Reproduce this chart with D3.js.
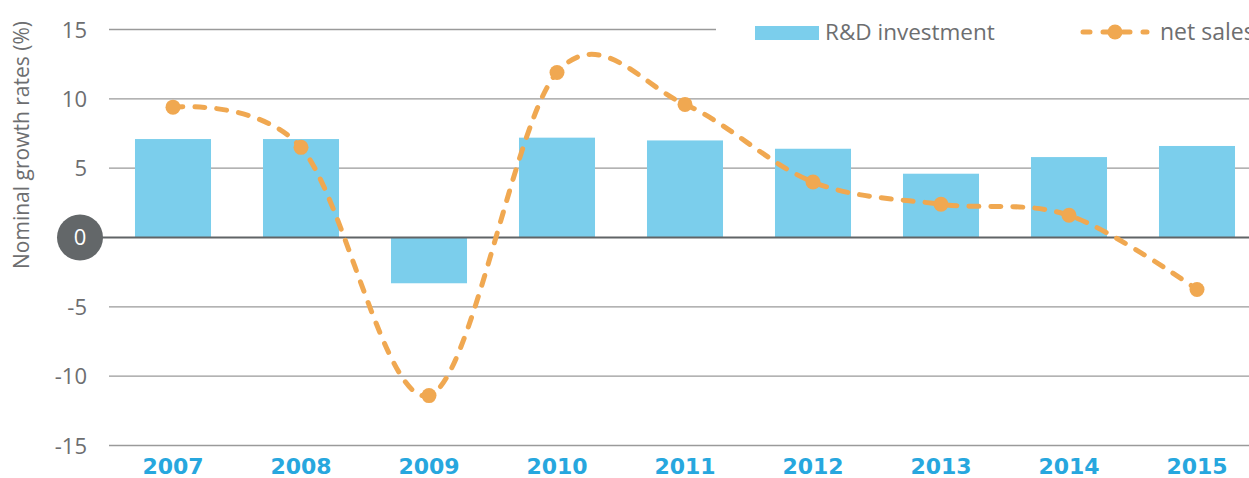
<!DOCTYPE html>
<html><head><meta charset="utf-8">
<script src="https://cdn.jsdelivr.net/npm/d3@7"></script>
<style>
html,body{margin:0;padding:0;background:#fff;overflow:hidden}
svg{display:block;font-family:"Open Sans",sans-serif}
</style></head>
<body>
<svg id="c" width="1249" height="478"></svg>
<script>
const years = ["2007","2008","2009","2010","2011","2012","2013","2014","2015"];
const rdInvestment = [7.1, 7.1, -3.3, 7.2, 7.0, 6.4, 4.6, 5.8, 6.6];
const netSales = [9.4, 6.5, -11.4, 11.9, 9.6, 4.0, 2.4, 1.6, -3.75];
const yTicks = [-15, -10, -5, 0, 5, 10, 15];
const seriesNames = ["R&D investment", "net sales"];
const axisTitle = "Nominal growth rates (%)";

const svg = d3.select("#c");
const left = 109, right = 1261;
const x = d3.scaleBand().domain(years).range([left, right]).paddingInner(0.406).paddingOuter(0.203);
const y = d3.scaleLinear().domain([-15, 15]).range([445.5, 29.5]);

const barColor = "#7bceec", lineColor = "#f0a851", gridColor = "#9a9a9a", textGrey = "#6d6e70";

// gridlines
const grid = svg.append("g");
grid.selectAll("line").data(yTicks.filter(d => d !== 0)).join("line")
  .attr("x1", left).attr("x2", d => d === 15 ? 716 : 1249)
  .attr("y1", d => y(d)).attr("y2", d => y(d))
  .attr("stroke", gridColor).attr("stroke-width", 1.3);

// bars
svg.append("g").selectAll("rect").data(years).join("rect")
  .attr("x", d => x(d))
  .attr("width", x.bandwidth())
  .attr("y", (d, i) => y(Math.max(0, rdInvestment[i])))
  .attr("height", (d, i) => Math.abs(y(rdInvestment[i]) - y(0)))
  .attr("fill", barColor);

// zero line
svg.append("line").attr("x1", 100).attr("x2", 1249)
  .attr("y1", y(0)).attr("y2", y(0))
  .attr("stroke", "#606466").attr("stroke-width", 2.2);

// y-axis labels
const yAxis = d3.axisLeft(y).tickValues(yTicks).tickSize(0).tickPadding(0)
  .tickFormat(d => d === 0 ? "" : d3.format("d")(d).replace("−", "-"));
const ya = svg.append("g").attr("transform", "translate(87,0)").call(yAxis);
ya.select(".domain").remove();
ya.selectAll("text").attr("fill", textGrey).attr("font-size", 22)
  .attr("font-family", "'Open Sans',sans-serif").attr("dy", "0.35em");

// zero circle
svg.append("circle").attr("cx", 80).attr("cy", y(0)).attr("r", 23).attr("fill", "#636769");
svg.append("text").attr("x", 80).attr("y", y(0)).attr("dy", "0.36em")
  .attr("text-anchor", "middle").attr("fill", "#fff").attr("font-size", 22).text("0");

// x-axis labels
const xAxis = d3.axisBottom(x).tickSize(0).tickPadding(0);
const xa = svg.append("g").attr("transform", "translate(0,474)").call(xAxis);
xa.select(".domain").remove();
xa.selectAll("text").attr("fill", "#27a7de").attr("font-size", 22).attr("font-weight", "bold")
  .attr("font-family", "'DejaVu Sans',sans-serif").attr("dy", "0");

// line
const cx = d => x(d) + x.bandwidth() / 2;
const line = d3.line().x((d, i) => cx(years[i])).y(d => y(d)).curve(d3.curveCardinal.tension(0));
svg.append("path").attr("d", line(netSales)).attr("fill", "none")
  .attr("stroke", lineColor).attr("stroke-width", 5)
  .attr("stroke-dasharray", "10 12").attr("stroke-linecap", "round");
svg.append("g").selectAll("circle").data(netSales).join("circle")
  .attr("cx", (d, i) => cx(years[i])).attr("cy", d => y(d)).attr("r", 7.5).attr("fill", lineColor);

// axis title
svg.append("text").attr("transform", "translate(29,145) rotate(-90)")
  .attr("text-anchor", "middle").attr("fill", textGrey).attr("font-size", 21).text(axisTitle);

// legend
const lg = svg.append("g");
lg.append("rect").attr("x", 755).attr("y", 26).attr("width", 64).attr("height", 14).attr("fill", barColor);
lg.append("text").attr("x", 825).attr("y", 32).attr("dy", "0.36em").attr("fill", textGrey)
  .attr("font-size", 22.5).text(seriesNames[0]);
lg.append("line").attr("x1", 1083).attr("x2", 1147).attr("y1", 32).attr("y2", 32)
  .attr("stroke", lineColor).attr("stroke-width", 5).attr("stroke-linecap", "round")
  .attr("stroke-dasharray", "7 13");
lg.append("circle").attr("cx", 1115).attr("cy", 32).attr("r", 7.5).attr("fill", lineColor);
lg.append("text").attr("x", 1160).attr("y", 32).attr("dy", "0.36em").attr("fill", textGrey)
  .attr("font-size", 23).text(seriesNames[1]);
</script>
</body></html>
